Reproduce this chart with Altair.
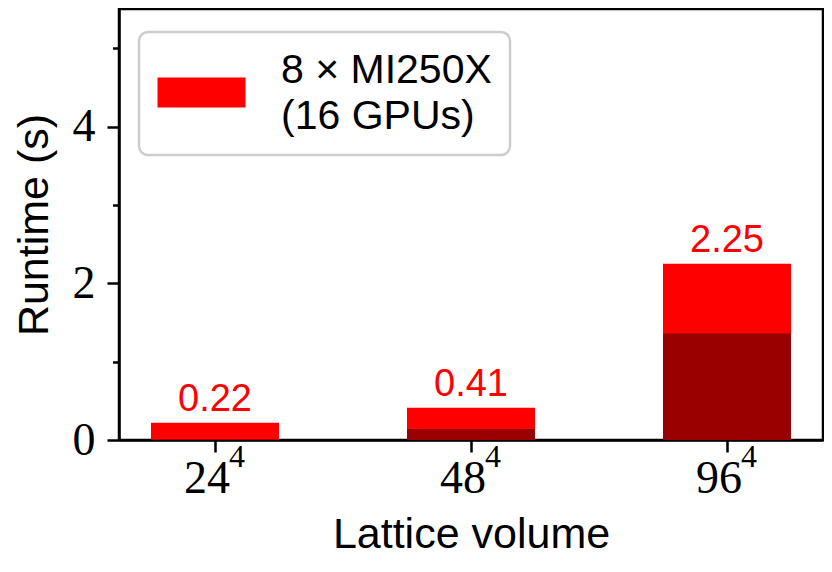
import altair as alt
import pandas as pd

volumes = ["24⁴", "48⁴", "96⁴"]
totals = [0.22, 0.41, 2.25]
dark_part = [0.01, 0.14, 1.36]
series_name = "8 × MI250X (16 GPUs)"
y_ticks = [0, 0.5, 1, 1.5, 2, 2.5, 3, 3.5, 4, 4.5, 5, 5.5]

df = pd.DataFrame({
    "volume": volumes,
    "total": totals,
    "dark": dark_part,
    "series": [series_name] * len(volumes),
})

SANS = "Liberation Sans"
SERIF = "Liberation Serif"

xscale = alt.Scale(type="band", paddingInner=0.5, paddingOuter=0.125)
yscale = alt.Scale(domain=[0, 5.5], nice=False, zero=True)

# main x axis: base numbers of the lattice volume
x_main = alt.X(
    "volume:N",
    sort=volumes,
    scale=xscale,
    axis=alt.Axis(
        orient="bottom",
        title="Lattice volume",
        labelAngle=0,
        labelExpr="replace(datum.label, '⁴', '')",
        labelFont=SERIF,
        labelFontSize=46,
        labelPadding=4,
        labelOffset=-8,
        tickSize=12,
        titleFont=SANS,
        titleFontSize=43,
        titleFontWeight="normal",
        titlePadding=12,
    ),
)

# second x axis drawing the exponent as a superscript
x_sup = alt.X(
    "volume:N",
    sort=volumes,
    scale=xscale,
    axis=alt.Axis(
        orient="bottom",
        title=None,
        labelAngle=0,
        labelExpr="'4'",
        labelFont=SERIF,
        labelFontSize=32,
        labelPadding=1,
        labelOffset=22,
        ticks=False,
        domain=False,
    ),
)

x_plain = alt.X("volume:N", sort=volumes, scale=xscale, axis=None)

total_bars = alt.Chart(df).mark_bar(size=128).encode(
    x=x_main,
    y=alt.Y(
        "total:Q",
        scale=yscale,
        axis=alt.Axis(
            title="Runtime (s)",
            values=y_ticks,
            format="d",
            labelExpr="datum.value % 2 === 0 ? datum.label : ''",
            tickSize={"condition": {"test": "datum.value % 2 === 0", "value": 12}, "value": 6.5},
            labelFont=SERIF,
            labelFontSize=46,
            labelPadding=12,
            titleFont=SANS,
            titleFontSize=43,
            titleFontWeight="normal",
            titlePadding=16,
        ),
    ),
    color=alt.Color(
        "series:N",
        scale=alt.Scale(range=["#ff0000"]),
        legend=alt.Legend(
            title=None,
            orient="none",
            legendX=20,
            legendY=23,
            symbolType="M-2.2,0.35H2.2V1.85H-2.2Z",
            symbolSize=1600,
            symbolOffset=24,
            symbolStrokeWidth=0,
            symbolOpacity=1,
            labelFont=SANS,
            labelFontSize=41,
            labelColor="black",
            labelLimit=1000,
            labelOffset=59,
            labelExpr="['8 × MI250X', '(16 GPUs)']",
            padding=18,
            strokeColor="#cccccc",
            cornerRadius=9,
            fillColor="white",
        ),
    ),
)

dark_bars = alt.Chart(df).mark_bar(size=128, color="#990000").encode(
    x=x_sup,
    y=alt.Y("dark:Q", scale=yscale),
)

labels = alt.Chart(df).mark_text(
    font=SANS, fontSize=38, color="#ff0000", baseline="alphabetic", dy=-12
).encode(
    x=x_plain,
    y=alt.Y("total:Q", scale=yscale),
    text=alt.Text("total:Q", format=".2f"),
)

chart = (
    alt.layer(total_bars, dark_bars, labels)
    .resolve_scale(x="independent")
    .properties(
        width=704,
        height=431,
        autosize=alt.AutoSizeParams(type="none"),
        padding={"left": 111, "top": 1, "right": 1, "bottom": 120},
    )
    .configure(style={"guide-label": {"lineHeight": 46}})
    .configure_view(stroke="black", strokeWidth=2.5)
    .configure_axis(
        grid=False,
        domainColor="black",
        domainWidth=2.5,
        tickColor="black",
        tickWidth=2.5,
        labelColor="black",
        titleColor="black",
    )
    .configure_legend(strokeWidth=2.5)
)

chart.save("out.html", embed_options={"renderer": "svg", "actions": False})
